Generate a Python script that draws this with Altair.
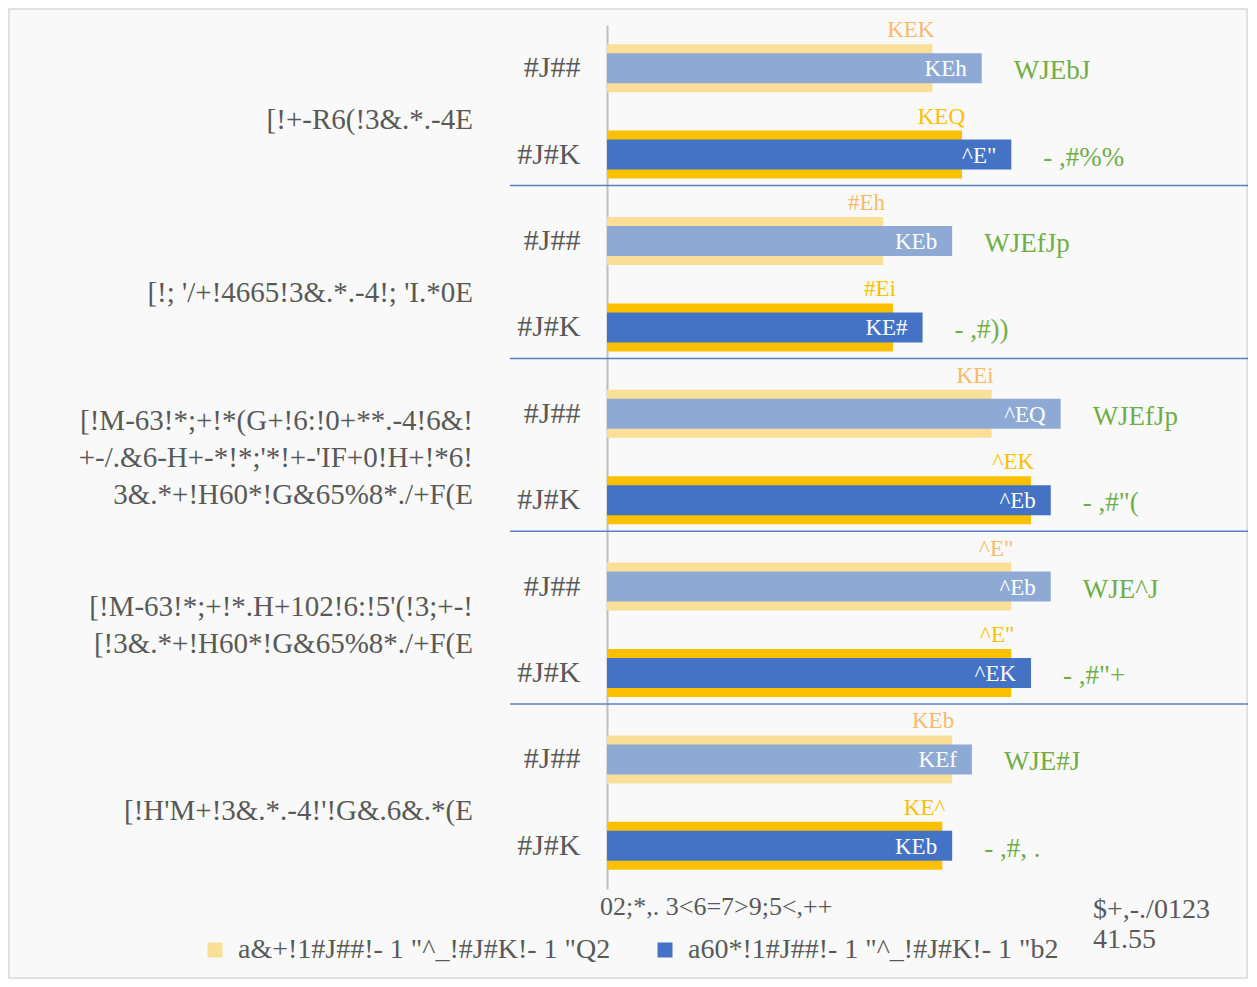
import altair as alt
import pandas as pd

# ---------------- data ----------------
groups = [
    "[!+-R6(!3&.*.-4E",
    "[!; '/+!4665!3&.*.-4!; 'I.*0E",
    "[!M-63!*;+!*(G+!6:!0+**.-4!6&!\n+-/.&6-H+-*!*;'*!+-'IF+0!H+!*6!\n3&.*+!H60*!G&65%8*./+F(E",
    "[!M-63!*;+!*.H+102!6:!5'(!3;+-!\n[!3&.*+!H60*!G&65%8*./+F(E",
    "[!H'M+!3&.*.-4!'!G&.6&.*(E",
]
years = ["#J##", "#J#K"]

back_2022 = [3.3, 2.8, 3.9, 4.1, 3.5]
front_2022 = [3.8, 3.5, 4.6, 4.5, 3.7]
back_2023 = [3.6, 2.9, 4.3, 4.1, 3.4]
front_2023 = [4.1, 3.2, 4.5, 4.3, 3.5]

back_2022_labels = ["KEK", "#Eh", "KEi", "^E\"", "KEb"]
front_2022_labels = ["KEh", "KEb", "^EQ", "^Eb", "KEf"]
back_2023_labels = ["KEQ", "#Ei", "^EK", "^E\"", "KE^"]
front_2023_labels = ["^E\"", "KE#", "^Eb", "^EK", "KEb"]

change_2022 = ["WJEbJ", "WJEfJp", "WJEfJp", "WJE^J", "WJE#J"]
change_2023 = ["- ,#%%", "- ,#))", "- ,#\"(", "- ,#\"+", "- ,#, ."]

legend_1 = "a&+!1#J##!- 1 \"^_!#J#K!- 1 \"Q2"
legend_2 = "a60*!1#J##!- 1 \"^_!#J#K!- 1 \"b2"
note_left = "02;*,. 3<6=7>9;5<,++"
note_right = "$+,-./0123\n41.55"

# ---------------- tables ----------------
rows = []
for gi in range(len(groups)):
    for yi, yr in enumerate(years):
        key = f"{gi}|{yr}"
        if yi == 0:
            rows.append(dict(row=key, g=gi, year=yr, layer="back", series=legend_1,
                             value=back_2022[gi], label=back_2022_labels[gi]))
            rows.append(dict(row=key, g=gi, year=yr, layer="front", series="f22",
                             value=front_2022[gi], label=front_2022_labels[gi],
                             change=change_2022[gi]))
        else:
            rows.append(dict(row=key, g=gi, year=yr, layer="back", series="b23",
                             value=back_2023[gi], label=back_2023_labels[gi]))
            rows.append(dict(row=key, g=gi, year=yr, layer="front", series=legend_2,
                             value=front_2023[gi], label=front_2023_labels[gi],
                             change=change_2023[gi]))
df = pd.DataFrame(rows)
row_order = [f"{gi}|{yr}" for gi in range(len(groups)) for yr in years]

gdf = pd.DataFrame(dict(row=[f"{gi}|{years[0]}" for gi in range(len(groups))],
                        sep=[f"{gi}|{years[1]}" for gi in range(len(groups))],
                        name=groups, g=list(range(len(groups))),
                        nlines=[len(s.split("\n")) for s in groups]))

FONT = "Liberation Serif"
GREY = "#595959"

x_enc = alt.X("value:Q", scale=alt.Scale(domain=[0, 6.5]), axis=None)
y_enc = alt.Y("row:N", sort=row_order, title=None,
              scale=alt.Scale(paddingInner=0, paddingOuter=0),
              axis=alt.Axis(labelExpr="split(datum.label, '|')[1]", ticks=False,
                            labelPadding=27, labelFont=FONT, labelFontSize=30,
                            labelColor=GREY, domainColor="#bfbfbf", domainWidth=2,
                            grid=False))

color_enc = alt.Color(
    "series:N",
    scale=alt.Scale(domain=[legend_1, legend_2, "b23", "f22"],
                    range=["#f9df97", "#4472c4", "#fbc000", "#8eaad4"]),
    legend=alt.Legend(values=[legend_1, legend_2], title=None, orient="none",
                      direction="horizontal", legendX=-406, legendY=911,
                      symbolType="square", symbolSize=225, symbolStrokeWidth=0,
                      labelFont=FONT, labelFontSize=28, labelColor=GREY,
                      labelOffset=9, columnPadding=40, labelLimit=600))

base = alt.Chart(df)

back = base.transform_filter("datum.layer == 'back'").mark_bar(size=48).encode(
    x=x_enc, y=y_enc, color=color_enc)
front = base.transform_filter("datum.layer == 'front'").mark_bar(size=30).encode(
    x=x_enc, y=y_enc, color=color_enc)

back_lab_22 = base.transform_filter(
    f"datum.layer == 'back' && datum.year == '{years[0]}'").mark_text(
    align="right", baseline="middle", dx=2, dy=-38, font=FONT, fontSize=23,
    color="#f9b96b").encode(x=x_enc, y=y_enc, text="label:N")
back_lab_23 = base.transform_filter(
    f"datum.layer == 'back' && datum.year == '{years[1]}'").mark_text(
    align="right", baseline="middle", dx=3, dy=-38, font=FONT, fontSize=23,
    color="#fbc000").encode(x=x_enc, y=y_enc, text="label:N")
front_lab = base.transform_filter("datum.layer == 'front'").mark_text(
    align="right", baseline="middle", dx=-15, dy=1, font=FONT, fontSize=23,
    color="white").encode(x=x_enc, y=y_enc, text="label:N")
change_lab = base.transform_filter("datum.layer == 'front'").mark_text(
    align="left", baseline="middle", dx=32, dy=3, font=FONT, fontSize=27,
    color="#70ad47").encode(x=x_enc, y=y_enc, text="change:N")

gbase = alt.Chart(gdf)
LINE_H = 37


def group_layer(n, dy):
    return gbase.transform_filter(f"datum.nlines == {n}").mark_text(
        align="right", baseline="middle", dy=dy, font=FONT, fontSize=29,
        color=GREY, lineBreak="\n", lineHeight=LINE_H).encode(
        x=alt.value(-134), y=alt.Y("row:N", sort=row_order), text="name:N")


group_1 = group_layer(1, 52)
group_2 = group_layer(2, 20)
group_3 = group_layer(3, 7)

seps = gbase.transform_filter("datum.g < 4").mark_rule(
    color="#5b7fc7", strokeWidth=1.5, yOffset=31).encode(
    x=alt.value(-97), x2=alt.value(648), y=alt.Y("sep:N", sort=row_order))

ndf = pd.DataFrame(dict(a=[note_left], b=[note_right]))
nbase = alt.Chart(ndf)
note1 = nbase.mark_text(align="left", baseline="middle", font=FONT, fontSize=26,
                        color=GREY).encode(x=alt.value(-7), y=alt.value(882), text="a:N")
note2 = nbase.mark_text(align="left", baseline="middle", font=FONT, fontSize=28,
                        color=GREY, lineBreak="\n", lineHeight=30).encode(
    x=alt.value(486), y=alt.value(885), text="b:N")
border = nbase.mark_rect(fill=None, stroke="#d9d9d9", strokeWidth=1.5).encode(
    x=alt.value(-598), x2=alt.value(640), y=alt.value(-16), y2=alt.value(953))

chart = alt.layer(
    border, back, front, back_lab_22, back_lab_23, front_lab, change_lab,
    group_1, group_2, group_3, seps, note1, note2
).properties(
    width=641, height=864,
    padding={"left": 599, "top": 17, "right": 0, "bottom": 90},
    autosize=alt.AutoSizeParams(type="none"),
    background="#f9f9f9",
).configure_view(stroke=None)

chart.save("out.html", embed_options={"renderer": "svg", "actions": False})
